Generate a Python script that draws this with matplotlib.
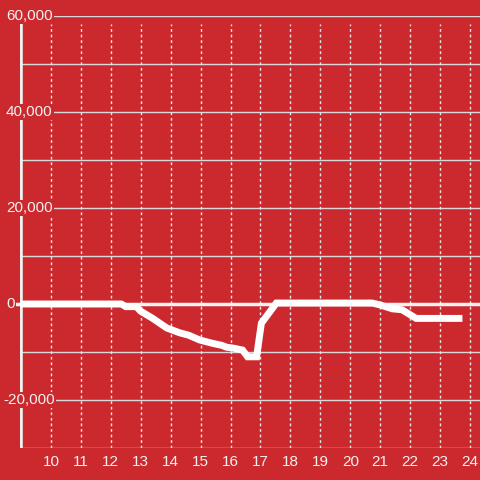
import matplotlib.pyplot as plt
from matplotlib.transforms import blended_transform_factory

# values
hours = [9.0, 12.35, 12.5, 12.85, 13.0, 13.4, 13.87, 14.3, 14.6, 14.97,
         15.4, 15.7, 15.87, 16.1, 16.4, 16.57, 16.87, 17.03, 17.53,
         20.73, 21.0, 21.4, 21.73, 22.2, 23.63]
balance = [0, 0, -550, -550, -1500, -3000, -5000, -6000, -6500, -7500,
           -8200, -8600, -9000, -9200, -9600, -11000, -11000, -4000, 200,
           200, -200, -1000, -1200, -3000, -3000]

x_ticks = list(range(10, 25))
y_ticks = [-20000, 0, 20000, 40000, 60000]
y_grid = list(range(-30000, 60001, 10000))

bg = '#cc292e'
fg = '#f2f2f2'

plt.rcParams['font.family'] = ['Liberation Sans', 'DejaVu Sans']

fig = plt.figure(figsize=(4.8, 4.8), dpi=100, facecolor=bg)
ax = fig.add_axes([20 / 480, 32 / 480, 460 / 480, 432 / 480])
ax.set_facecolor(bg)
ax.set_xlim(8.967, 24.333)
ax.set_ylim(-30000, 60000)

for s in ax.spines.values():
    s.set_visible(False)
ax.set_xticks([])
ax.set_yticks([])

# horizontal grid
for v in y_grid:
    if v == 0:
        continue
    ax.axhline(v, color='#d9d9d9', lw=1, zorder=1)
# vertical dotted grid
for h in x_ticks:
    ax.axvline(h, ymax=0.981, color='#e6e6e6', lw=1, ls=(0, (2, 2)), zorder=1)

# zero line and left axis
ax.axhline(0, xmin=-3 / 460, color=fg, lw=2.5, zorder=2, clip_on=False)
ax.axvline(8.967, ymax=0.981, color=fg, lw=4, zorder=2)

ax.plot(hours, balance, color='white', lw=5, solid_joinstyle='miter',
        zorder=3)

tr = blended_transform_factory(fig.transFigure, ax.transData)
for v in y_ticks:
    xpos = 3 / 480 if v < 0 else 6 / 480
    ax.text(xpos, v, f'{v:,}', transform=tr, ha='left', va='center',
            color=fg, fontsize=11, clip_on=False,
            bbox=dict(facecolor=bg, edgecolor='none', pad=1), zorder=4)

trx = blended_transform_factory(ax.transData, ax.transAxes)
for h in x_ticks:
    ax.text(h, -14 / 432, str(h), transform=trx, ha='center', va='center',
            color=fg, fontsize=11, clip_on=False)

fig.savefig('out.png', dpi=100, facecolor=bg)
